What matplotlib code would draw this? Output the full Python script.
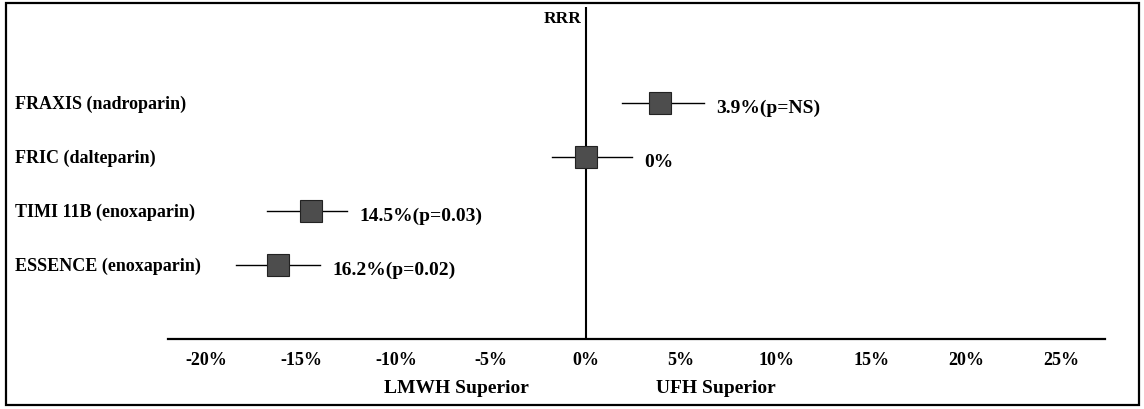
import matplotlib
matplotlib.use("Agg")
import matplotlib.pyplot as plt
from matplotlib.patches import Rectangle
from matplotlib.transforms import blended_transform_factory

# ---- data ----
studies = ["FRAXIS (nadroparin)", "FRIC (dalteparin)",
           "TIMI 11B (enoxaparin)", "ESSENCE (enoxaparin)"]
rrr = [3.9, 0.0, -14.5, -16.2]
ci_low = [1.9, -1.8, -16.8, -18.4]
ci_high = [6.2, 2.4, -12.6, -14.0]
annotations = ["3.9%(p=NS)", "0%", "14.5%(p=0.03)", "16.2%(p=0.02)"]
tick_values = [-20, -15, -10, -5, 0, 5, 10, 15, 20, 25]
tick_labels = ["-20%", "-15%", "-10%", "-5%", "0%", "5%", "10%", "15%", "20%", "25%"]
left_label = "LMWH Superior"
right_label = "UFH Superior"
axis_title = "RRR"

FONT = "Liberation Serif"
W, H = 1144, 410
fig = plt.figure(figsize=(W / 100, H / 100), dpi=100)
fig.patch.set_facecolor("white")

# axes placed in pixel terms
x0, x1, ytop, ybot = 168, 1105, 8, 340
ax = fig.add_axes([x0 / W, (H - ybot) / H, (x1 - x0) / W, (ybot - ytop) / H])
ax.set_xlim(-22.0, 27.3)
rows = list(range(1, len(studies) + 1))
ax.set_ylim(5.37, -0.78)

for s in ["top", "right", "left"]:
    ax.spines[s].set_visible(False)
ax.spines["bottom"].set_linewidth(1.6)
ax.set_yticks([])
ax.set_xticks(tick_values)
ax.set_xticklabels(tick_labels, fontfamily=FONT, fontweight="bold", fontsize=13)
ax.tick_params(axis="x", length=0, pad=9)

# zero line
ax.axvline(0, color="black", lw=1.5, zorder=1)

# CI lines and squares
for y, lo, hi, m, txt in zip(rows, ci_low, ci_high, rrr, annotations):
    ax.plot([lo, hi], [y, y], color="black", lw=1.0, zorder=2)
    ax.plot([m], [y], marker="s", markersize=16, markerfacecolor="#4d4d4d",
            markeredgecolor="#222222", markeredgewidth=0.8, zorder=3)
    ax.annotate(txt, xy=(hi, y), xytext=(9, -3), textcoords="offset points",
                ha="left", va="center", fontfamily=FONT, fontweight="bold",
                fontsize=14)

# study labels at left (figure x, data y)
tr = blended_transform_factory(fig.transFigure, ax.transData)
for y, name in zip(rows, studies):
    ax.text(15 / W, y, name, transform=tr, ha="left", va="center",
            fontfamily=FONT, fontweight="bold", fontsize=13, clip_on=False)

# RRR title next to zero line
ax.annotate(axis_title, xy=(0, -0.78), xytext=(-3, -2), textcoords="offset points",
            ha="right", va="top", fontfamily=FONT, fontweight="bold", fontsize=12.5)

# direction labels
trb = blended_transform_factory(ax.transData, fig.transFigure)
ax.text(-6.8, 1 - 389 / H, left_label, transform=trb, ha="center", va="center",
        fontfamily=FONT, fontweight="bold", fontsize=14, clip_on=False)
ax.text(6.8, 1 - 389 / H, right_label, transform=trb, ha="center", va="center",
        fontfamily=FONT, fontweight="bold", fontsize=14, clip_on=False)

# outer frame
fig.patches.append(Rectangle((6 / W, 4 / H), (1139 - 6) / W, (406 - 4) / H,
                             transform=fig.transFigure, fill=False,
                             edgecolor="black", lw=1.6))

fig.savefig("out.png", dpi=100)
